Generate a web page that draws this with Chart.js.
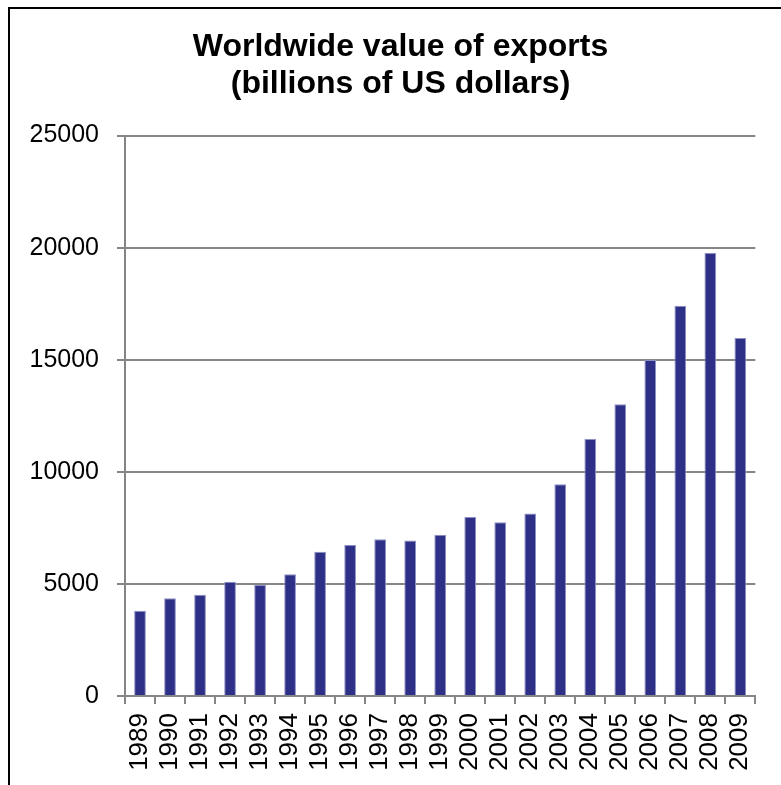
<!DOCTYPE html>
<html>
<head>
<meta charset="utf-8">
<title>Worldwide value of exports</title>
<script src="https://cdn.jsdelivr.net/npm/chart.js@4/dist/chart.umd.min.js"></script>
<style>
  body { margin: 0; background: #fff; overflow: hidden; }
  #wrap { position: relative; width: 781px; height: 785px; }
  #frame {
    position: absolute; left: 8px; top: 7px; right: 0; bottom: 0;
    border-top: 2px solid #000; border-left: 2px solid #000;
    pointer-events: none;
  }
</style>
</head>
<body>
<div id="wrap">
  <canvas id="myChart" width="781" height="785"></canvas>
  <div id="frame"></div>
</div>
<script>
// years on the x axis
const years = ["1989", "1990", "1991", "1992", "1993", "1994", "1995", "1996", "1997", "1998", "1999",
  "2000", "2001", "2002", "2003", "2004", "2005", "2006", "2007", "2008", "2009"];

// export value, billions of US dollars
const exportValues = [3800, 4360, 4520, 5100, 4955, 5430, 6430, 6740, 6995, 6935, 7190,
  7980, 7750, 8140, 9450, 11460, 13020, 14985, 17410, 19760, 15970];

// y axis ticks
const yTicks = [0, 5000, 10000, 15000, 20000, 25000];

const titleLines = ["Worldwide value of exports", "(billions of US dollars)"];

const gridGray = "#868686";
const fontName = "'Liberation Sans', Arial, sans-serif";

const data = {
  labels: years,
  datasets: [{
    label: "Exports",
    data: exportValues,
    backgroundColor: "#2e3087",
    borderColor: "#8e8fc4",
    borderWidth: 1,
    barPercentage: 0.39,
    categoryPercentage: 1.0,
    yAxisID: "y",
  }],
};

const config = {
  type: "bar",
  data: data,
  options: {
    responsive: false,
    animation: false,
    layout: { padding: { left: 20, right: 0, top: 0, bottom: 0 } },
    plugins: {
      legend: { display: false },
      tooltip: { enabled: false },
      title: {
        display: true,
        text: titleLines,
        color: "#000",
        font: { family: fontName, size: 32, weight: "bold", lineHeight: 1.15 },
        padding: { top: 29, bottom: 33 },
      },
    },
    scales: {
      x: {
        grid: {
          offset: true,
          drawOnChartArea: false,
          drawTicks: true,
          tickLength: 8,
          color: gridGray,
          lineWidth: 2,
        },
        border: { color: gridGray, width: 2 },
        ticks: {
          color: "#000",
          font: { family: fontName, size: 26 },
          autoSkip: false,
          minRotation: 90,
          maxRotation: 90,
          padding: 9,
        },
        afterFit: (scale) => { scale.height = 89; },
      },
      y: {
        min: yTicks[0],
        max: yTicks[yTicks.length - 1],
        afterBuildTicks: (scale) => { scale.ticks = yTicks.map((v) => ({ value: v })); },
        grid: {
          color: gridGray,
          lineWidth: 2,
          tickLength: 8,
        },
        border: { color: gridGray, width: 2 },
        ticks: {
          color: "#000",
          font: { family: fontName, size: 25 },
          padding: 18,
          callback: (value) => String(value),
        },
        afterFit: (scale) => { scale.width = 105; },
      },
      // empty right axis: just keeps a 20px gap on the right, title stays centred on the frame
      yRight: {
        position: "right",
        grid: { display: false },
        border: { display: false },
        ticks: { display: false },
        afterFit: (scale) => { scale.width = 20; },
      },
    },
  },
};

const myChart = new Chart(document.getElementById("myChart"), config);
</script>
</body>
</html>
